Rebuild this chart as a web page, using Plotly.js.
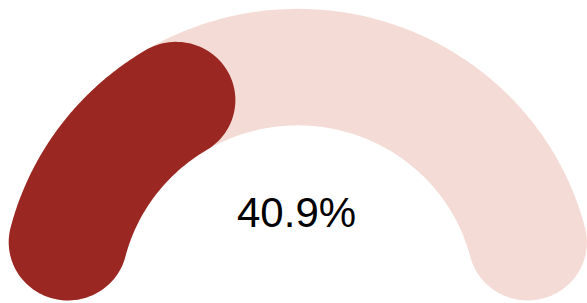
<!DOCTYPE html>
<html>
<head>
<meta charset="utf-8">
<script src="https://cdn.plot.ly/plotly-3.0.1.min.js"></script>
<style>html,body{margin:0;padding:0;background:#fff;}#chart{width:587px;height:303px;}</style>
</head>
<body>
<div id="chart"></div>
<script>
// ---- data ----
const gaugeValues = [40.9];
const gaugeMax = [100];
const gaugeLabels = ['40.9%'];

// ---- geometry (pixel-scaled units, center of the gauge at 0,0) ----
const R = 296.6, r = 178.1;
const c = (R - r) / 2, Rm = (R + r) / 2;
const delta = Math.asin(c / Rm) * 180 / Math.PI;
const rad = d => d * Math.PI / 180;

function band(thStart, thEnd) {
  const a1 = thStart - delta, a2 = thEnd + delta;
  const xs = [], ys = [];
  const N = 120;
  for (let i = 0; i <= N; i++) { const a = a1 + (a2 - a1) * i / N; xs.push(R * Math.cos(rad(a))); ys.push(R * Math.sin(rad(a))); }
  const ex = Rm * Math.cos(rad(a2)), ey = Rm * Math.sin(rad(a2));
  for (let i = 0; i <= 60; i++) { const p = a2 - 180 * i / 60; xs.push(ex + c * Math.cos(rad(p))); ys.push(ey + c * Math.sin(rad(p))); }
  for (let i = 0; i <= N; i++) { const a = a2 + (a1 - a2) * i / N; xs.push(r * Math.cos(rad(a))); ys.push(r * Math.sin(rad(a))); }
  const sx = Rm * Math.cos(rad(a1)), sy = Rm * Math.sin(rad(a1));
  for (let i = 0; i <= 60; i++) { const p = a1 + 180 - 180 * i / 60; xs.push(sx + c * Math.cos(rad(p))); ys.push(sy + c * Math.sin(rad(p))); }
  return {xs, ys};
}

const bg = band(180, 0);
const fg = band(180, 180 - 180 * gaugeValues[0] / gaugeMax[0]);

const traces = [
  {x: bg.xs, y: bg.ys, mode: 'lines', fill: 'toself', fillcolor: '#f4dbd6', line: {width: 0, color: '#f4dbd6', simplify: false}, hoverinfo: 'skip', showlegend: false},
  {x: fg.xs, y: fg.ys, mode: 'lines', fill: 'toself', fillcolor: '#9b2722', line: {width: 0, color: '#9b2722', simplify: false}, hoverinfo: 'skip', showlegend: false}
];

const layout = {
  width: 587, height: 303,
  margin: {l: 0, r: 0, t: 0, b: 0, pad: 0},
  paper_bgcolor: '#ffffff', plot_bgcolor: '#ffffff',
  xaxis: {range: [-297.8, 289.2], visible: false, fixedrange: true},
  yaxis: {range: [-2.6, 305.6], visible: false, fixedrange: true},
  showlegend: false,
  hovermode: false,
  annotations: [{
    x: -1, y: 305.6 - 216, xref: 'x', yref: 'y',
    text: gaugeLabels[0], showarrow: false,
    xanchor: 'center', yanchor: 'middle',
    font: {family: 'Liberation Sans, Arial, sans-serif', size: 42, color: '#000000'}
  }]
};

Plotly.newPlot('chart', traces, layout, {displayModeBar: false, staticPlot: true});
</script>
</body>
</html>
